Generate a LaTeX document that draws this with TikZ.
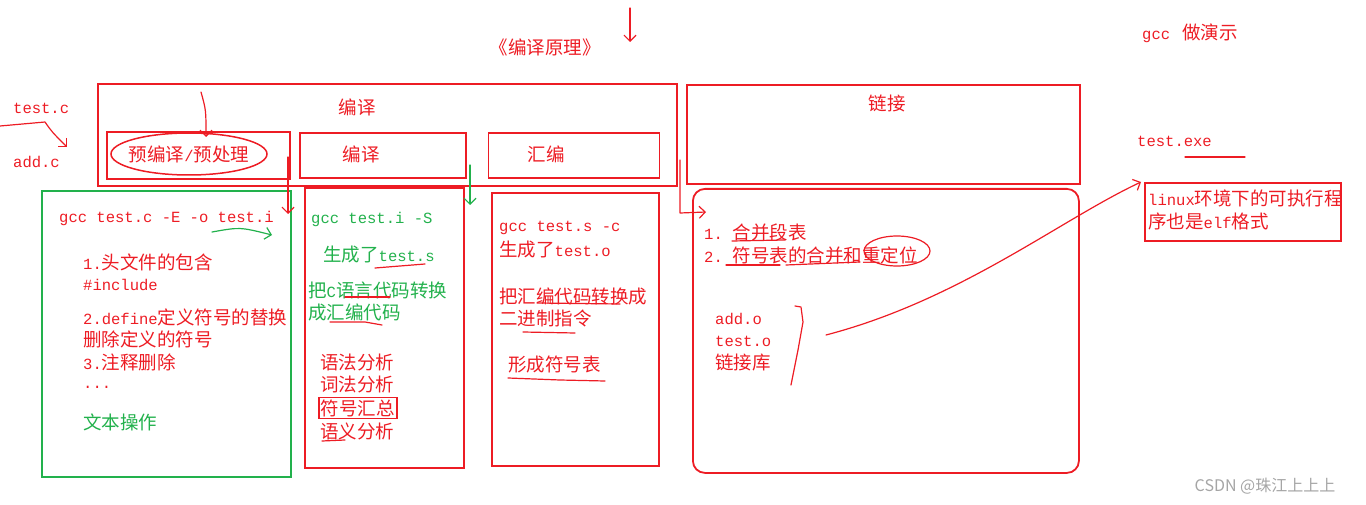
\documentclass[tikz,border=0pt]{standalone}
\usepackage{fontspec}
\setmainfont{Noto Sans CJK SC}
\newfontfamily\latfont{Liberation Mono}[Scale=0.84]
\usepackage{tikz}
\usetikzlibrary{shapes.geometric, arrows.meta, positioning}
\definecolor{paintred}{RGB}{237, 28, 36}
\definecolor{paintgreen}{RGB}{34, 177, 76}
\definecolor{markgray}{RGB}{165, 165, 165}
\newcommand{\lat}[1]{{\latfont #1}}

\begin{document}
\begin{tikzpicture}[
    x=1pt, y=-1pt,
    font=\fontsize{18.5}{22}\selectfont,
    redBox/.style={draw=paintred, line width=1.8pt, anchor=north west, inner sep=0pt},
    greenBox/.style={draw=paintgreen, line width=1.8pt, anchor=north west, inner sep=0pt},
    txt/.style={anchor=west, inner sep=0pt, text=paintred},
    gtxt/.style={txt, text=paintgreen},
    pen/.style={draw=paintred, line width=1.2pt, line join=round, line cap=round},
    gpen/.style={draw=paintgreen, line width=1.2pt, line join=round, line cap=round},
    arrow/.style={-{Straight Barb[length=6pt, width=12pt]}}
]
\useasboundingbox (0,0) rectangle (1366,505);

% Title and notes at the top
\node[txt, anchor=center] (title) at (545,47) {《编译原理》};
\coordinate (titleArrowTop) at (630,8);
\coordinate (titleArrowTip) at (630,42);
\draw[pen, arrow] (titleArrowTop) -- (titleArrowTip);
\node[txt] (demo) at (1142,33) {\lat{gcc}\hspace{12pt}做演示};

% Compile and link stages
\node[redBox, minimum width=579pt, minimum height=102pt] (compileStage) at (97,83) {};
\node[txt, anchor=center] (compileLbl) at (357,107) {编译};
\node[redBox, minimum width=393pt, minimum height=99pt] (linkStage) at (686,84) {};
\node[txt, anchor=center] (linkLbl) at (887,103) {链接};

\node[redBox, minimum width=183pt, minimum height=47pt] (preBox) at (106,131) {};
\node[draw=paintred, line width=1.5pt, ellipse, inner sep=0pt, minimum width=156pt, minimum height=42pt] (preRing) at (189,154) {};
\node[txt, anchor=center] (preLbl) at (189,154) {预编译\lat{/}预处理};
\node[redBox, minimum width=166pt, minimum height=45pt, right=8pt of preBox] (compBox) {};
\node[txt, anchor=center] (compLbl) at (361,154) {编译};
\node[redBox, minimum width=171pt, minimum height=45pt, right=21pt of compBox] (asmBox) {};
\node[txt, anchor=center] (asmLbl) at (546,154) {汇编};

\coordinate (preArrowTop) at (201,92);
\coordinate (preArrowTip) at (206,137);
\draw[pen, arrow] (preArrowTop) .. controls (206,110) .. (preArrowTip);

% Source files
\node[txt] (testC) at (13,108) {\lat{test.c}};
\node[txt] (addC) at (13,162) {\lat{add.c}};
\coordinate (inStart) at (0,126);
\coordinate (inBend) at (45,122);
\coordinate (inTip) at (67,147);
\draw[pen, arrow] (inStart) -- (inBend) .. controls (52,132) .. (inTip);

% Preprocessing details
\node[greenBox, minimum width=249pt, minimum height=286pt] (preDetail) at (41,190) {};
\node[txt] (preCmd) at (59,218) {\lat{gcc test.c -E -o test.i}};
\coordinate (preOutStart) at (212,232);
\coordinate (preOutTip) at (272,235);
\draw[gpen, arrow] (preOutStart) .. controls (240,227) .. (preOutTip);
\node[txt] (preA) at (83,262) {\lat{1.}头文件的包含};
\node[txt] (preB) at (83,285) {\lat{\#include}};
\node[txt] (preC) at (83,317) {\lat{2.define}定义符号的替换};
\node[txt] (preD) at (83,339) {删除定义的符号};
\node[txt] (preE) at (83,362) {\lat{3.}注释删除};
\node[txt] (preF) at (83,387) {\lat{...}};
\node[gtxt] (preG) at (83,422) {文本操作};

\coordinate (preDownTop) at (288,157);
\coordinate (preDownTip) at (288,214);
\draw[pen, arrow] (preDownTop) -- (preDownTip);

% Compilation details
\node[redBox, minimum width=159pt, minimum height=280pt] (compDetail) at (304,187) {};
\node[gtxt] (compCmd) at (311,219) {\lat{gcc test.i -S}};
\node[gtxt] (compGen) at (323,255) {生成了\lat{test.s}};
\node[gtxt] (compA) at (308,290) {把\lat{C}语言代码转换};
\node[gtxt] (compB) at (308,312) {成汇编代码};
\draw[pen] (375,268) -- (425,264);
\draw[pen] (345,297) -- (390,297);
\draw[pen] (330,322) -- (365,322) -- (382,325);
\node[txt] (synA) at (320,362) {语法分析};
\node[txt] (synB) at (320,384) {词法分析};
\node[txt, draw=paintred, line width=1.5pt, inner sep=2pt] (synC) at (318,408) {符号汇总};
\node[txt] (synD) at (320,431) {语义分析};
\draw[pen] (322,441) -- (345,440);

\coordinate (compDownTop) at (470,165);
\coordinate (compDownTip) at (470,205);
\draw[gpen, arrow] (compDownTop) -- (compDownTip);

% Assembly details
\node[redBox, minimum width=167pt, minimum height=273pt] (asmDetail) at (491,192) {};
\node[txt] (asmCmd) at (499,228) {\lat{gcc test.s -c}};
\node[txt] (asmGen) at (499,250) {生成了\lat{test.o}};
\node[txt] (asmA) at (499,296) {把汇编代码转换成};
\node[txt] (asmB) at (499,318) {二进制指令};
\node[txt] (asmC) at (508,365) {形成符号表};
\draw[pen] (537,303) -- (620,304);
\draw[pen] (523,332) -- (575,333);
\draw[pen] (508,378) -- (560,380) -- (605,381);

\coordinate (asmDownTop) at (680,160);
\coordinate (asmBend) at (680,213);
\coordinate (asmDownTip) at (706,212);
\draw[pen, arrow] (asmDownTop) -- (asmBend) -- (asmDownTip);

% Linking details
\node[redBox, rounded corners=12pt, minimum width=386pt, minimum height=284pt] (linkDetail) at (692,188) {};
\node[txt] (linkA) at (704,232) {\lat{1.}\hspace{10pt}合并段表};
\node[txt] (linkB) at (704,255) {\lat{2.}\hspace{10pt}符号表的合并和重定位};
\draw[pen] (732,241) -- (785,240);
\draw[pen] (726,265) -- (780,265);
\draw[pen] (786,265) -- (860,262);
\node[draw=paintred, line width=1.2pt, ellipse, inner sep=0pt, minimum width=66pt, minimum height=30pt] (relocRing) at (897,251) {};
\node[txt] (objA) at (715,319) {\lat{add.o}};
\node[txt] (objB) at (715,341) {\lat{test.o}};
\node[txt] (objC) at (715,362) {链接库};
\draw[pen] (795,306) -- (801,307) -- (803,322) -- (798,350) -- (791,385);

% Executable
\node[txt] (exe) at (1137,141) {\lat{test.exe}};
\draw[pen] (1185,157) -- (1245,157);
\node[redBox, minimum width=196pt, minimum height=58pt] (exeNote) at (1144,182) {};
\node[txt] (noteA) at (1148,198) {\lat{linux}环境下的可执行程};
\node[txt] (noteB) at (1148,221) {序也是\lat{elf}格式};
\coordinate (linkOut) at (826,335);
\draw[pen, arrow] (linkOut) .. controls (960,300) and (1060,220) .. ([xshift=-3pt]exeNote.north west);

\node[text=markgray, inner sep=0pt, font=\fontsize{16}{18}\selectfont] (mark) at (1265,486) {CSDN @珠江上上上};
\end{tikzpicture}
\end{document}
